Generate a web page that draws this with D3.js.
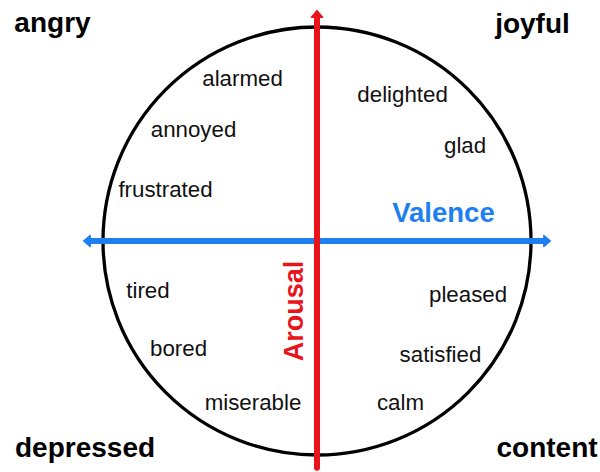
<!DOCTYPE html>
<html>
<head>
<meta charset="utf-8">
<script src="https://cdn.jsdelivr.net/npm/d3@7"></script>
<style>
  body { margin: 0; background: #fff; }
  text { font-family: "Liberation Sans", Arial, Helvetica, sans-serif; }
</style>
</head>
<body>
<div id="chart"></div>
<script>
// affect grid: valence (x) vs arousal (y), values in circle units
var words = ["alarmed", "annoyed", "frustrated", "delighted", "glad", "tired", "bored", "miserable", "pleased", "satisfied", "calm"];
var wordValence = [-0.348, -0.577, -0.708, 0.400, 0.692, -0.790, -0.647, -0.299, 0.706, 0.577, 0.390];
var wordArousal = [0.724, 0.486, 0.206, 0.650, 0.411, -0.266, -0.537, -0.790, -0.285, -0.565, -0.790];

var corners = ["angry", "joyful", "depressed", "content"];
var cornerValence = [-1.236, 1.007, -1.084, 1.075];
var cornerArousal = [0.977, 0.972, -1.009, -1.009];

var axisNames = ["Valence", "Arousal"];
var valenceExtent = [-1.06, 1.06];
var arousalExtent = [-1.06, 1.046];

(function() {
  var width = 600, height = 472;
  var red = "#e8141b", blue = "#1e80f0";

  var svg = d3.select("#chart")
    .append("svg")
    .attr("width", width)
    .attr("height", height);

  var x = d3.scaleLinear().domain([-1, 1]).range([103, 531]);
  var y = d3.scaleLinear().domain([-1, 1]).range([455, 27]);

  var defs = svg.append("defs");
  function arrow(id, color) {
    defs.append("marker")
      .attr("id", id)
      .attr("markerUnits", "userSpaceOnUse")
      .attr("viewBox", "-1 -8 11 16")
      .attr("markerWidth", 11)
      .attr("markerHeight", 16)
      .attr("refX", 0)
      .attr("refY", 0)
      .attr("orient", "auto-start-reverse")
      .append("path")
      .attr("d", "M0,-5.5 L6.5,0 L0,5.5 Z")
      .attr("fill", color)
      .attr("stroke", color)
      .attr("stroke-width", 1.5)
      .attr("stroke-linejoin", "round");
  }
  arrow("arrow-blue", blue);
  arrow("arrow-red", red);

  // circle
  svg.append("ellipse")
    .attr("cx", x(0))
    .attr("cy", y(0))
    .attr("rx", x(1) - x(0))
    .attr("ry", y(-1) - y(0))
    .attr("fill", "none")
    .attr("stroke", "#000")
    .attr("stroke-width", 3.3);

  // valence axis
  svg.append("line")
    .attr("x1", x(valenceExtent[0]))
    .attr("x2", x(valenceExtent[1]))
    .attr("y1", y(0))
    .attr("y2", y(0))
    .attr("stroke", blue)
    .attr("stroke-width", 6)
    .attr("marker-start", "url(#arrow-blue)")
    .attr("marker-end", "url(#arrow-blue)");

  // arousal axis (arrow only on top)
  svg.append("line")
    .attr("x1", x(0))
    .attr("x2", x(0))
    .attr("y1", y(arousalExtent[0]))
    .attr("y2", y(arousalExtent[1]))
    .attr("stroke", red)
    .attr("stroke-width", 6)
    .attr("stroke-linecap", "round")
    .attr("marker-end", "url(#arrow-red)");

  // axis titles
  svg.append("text")
    .attr("x", x(0.591))
    .attr("y", y(0.089))
    .attr("text-anchor", "middle")
    .attr("font-size", "27.5px")
    .attr("font-weight", "bold")
    .attr("fill", blue)
    .text(axisNames[0]);

  svg.append("text")
    .attr("transform", "translate(" + x(-0.065) + "," + y(-0.327) + ") rotate(-90)")
    .attr("text-anchor", "middle")
    .attr("font-size", "27px")
    .attr("font-weight", "bold")
    .attr("fill", red)
    .text(axisNames[1]);

  // affect words
  svg.selectAll(".word")
    .data(words)
    .enter().append("text")
    .attr("class", "word")
    .attr("x", function(d, i) { return x(wordValence[i]); })
    .attr("y", function(d, i) { return y(wordArousal[i]); })
    .attr("text-anchor", "middle")
    .attr("font-size", "22.3px")
    .attr("fill", "#111")
    .text(function(d) { return d; });

  // corner labels
  svg.selectAll(".corner")
    .data(corners)
    .enter().append("text")
    .attr("class", "corner")
    .attr("x", function(d, i) { return x(cornerValence[i]); })
    .attr("y", function(d, i) { return y(cornerArousal[i]); })
    .attr("text-anchor", "middle")
    .attr("font-size", "28px")
    .attr("font-weight", "bold")
    .attr("fill", "#000")
    .text(function(d) { return d; });
})();
</script>
</body>
</html>
